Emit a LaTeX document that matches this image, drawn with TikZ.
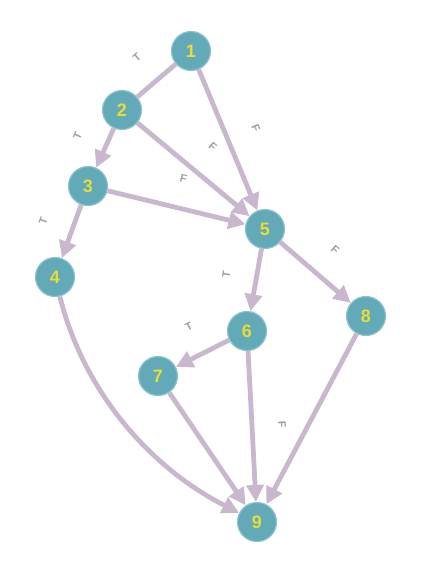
\documentclass[tikz,border=0pt]{standalone}
\usepackage{fontspec}
\setmainfont{Liberation Sans}
\usetikzlibrary{arrows.meta}
\definecolor{nodefill}{HTML}{62AAB8}
\definecolor{nodeline}{HTML}{90C2CE}
\definecolor{numcol}{HTML}{EADC36}
\definecolor{edgecol}{HTML}{C8B7CD}
\definecolor{lblcol}{HTML}{A29DA5}
\tikzset{
  vertex/.style={circle, fill=nodefill, draw=nodeline, line width=1.2pt,
    minimum size=39pt, inner sep=0pt, text=numcol,
    font=\bfseries\fontsize{18}{18}\selectfont},
  edge/.style={draw=edgecol, line width=4.8pt},
  arr/.style={edge, -{Triangle[length=17pt,width=17pt]}},
  lbl/.style={sloped, inner sep=0pt, text=lblcol,
    font=\bfseries\fontsize{11}{11}\selectfont, above=24pt}
}
\begin{document}
\begin{tikzpicture}[x=1pt,y=-1pt]
\useasboundingbox (0,0) rectangle (426,573);
\node[vertex] (n1) at (191,51) {1};
\node[vertex] (n2) at (122,110) {2};
\node[vertex] (n3) at (88,186) {3};
\node[vertex] (n4) at (55,277) {4};
\node[vertex] (n5) at (265,229) {5};
\node[vertex] (n6) at (247,331) {6};
\node[vertex] (n7) at (158,376) {7};
\node[vertex] (n8) at (366,316) {8};
\node[vertex] (n9) at (257,522) {9};
\path[edge] (n1) -- node[lbl, pos=0.5] {T} (n2);
\path[arr] (n2) -- node[lbl, pos=0.5] {T} (n3);
\path[arr] (n1) -- node[lbl, pos=0.5] {F} (n5);
\path[arr] (n2) -- node[lbl, pos=0.5] {F} (n5);
\path[arr] (n3) -- node[lbl, pos=0.5] {F} (n5);
\path[arr] (n3) -- node[lbl, pos=0.5] {T} (n4);
\path[arr] (n5) -- node[lbl, pos=0.5] {T} (n6);
\path[arr] (n5) -- node[lbl, pos=0.5] {F} (n8);
\path[arr] (n6) -- node[lbl, pos=0.5] {T} (n7);
\path[arr] (n6) -- node[lbl, pos=0.5] {F} (n9);
\path[arr] (n7) -- (n9);
\path[arr] (n8) -- (n9);
\path[arr] (n4) to[out=-76, in=153, looseness=0.9] (n9);
\end{tikzpicture}
\end{document}
